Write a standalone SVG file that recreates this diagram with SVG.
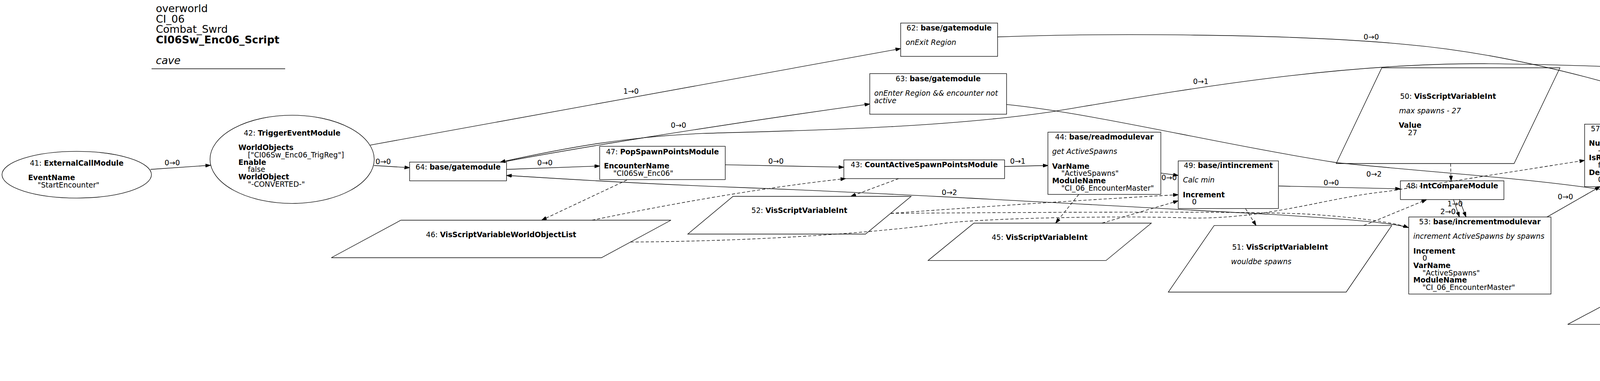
<svg xmlns="http://www.w3.org/2000/svg" width="5451" height="975" viewBox="0 0 5451 975">
<defs>
<style>
text{font-family:"DejaVu Sans","Liberation Sans",sans-serif;font-size:18.67px;fill:#000}
.tt{font-size:26.67px}
.m{text-anchor:middle}
.b{font-weight:bold}
.i{font-style:italic}
.s{fill:none;stroke:#000;stroke-width:1.33}
.e{fill:none;stroke:#000;stroke-width:1.33;marker-end:url(#a)}
.d{fill:none;stroke:#000;stroke-width:1.33;stroke-dasharray:8,5;marker-end:url(#a)}
</style>
<marker id="a" viewBox="0 0 13 9" refX="13" refY="4.5" markerWidth="13" markerHeight="9" markerUnits="userSpaceOnUse" orient="auto">
<path d="M0,0L13,4.5L0,9z" fill="#000" stroke="#000" stroke-width="1"/>
</marker>
</defs>
<rect width="5451" height="975" fill="#fff"/>
<g id="title">
<text class="tt" x="399" y="31">overworld</text>
<text class="tt" x="399" y="57.7">CI_06</text>
<text class="tt" x="399" y="84.3">Combat_Swrd</text>
<text class="tt b" x="399" y="111">CI06Sw_Enc06_Script</text>
<text class="tt i" x="399" y="164.3">cave</text>
<line class="s" x1="388" y1="176" x2="730" y2="176"/>
</g>
<g id="edges">
<path class="e" d="M385.2,433.5 L538.9,422.9"/>
<text class="m" x="441" y="423">0→0</text>
<path class="e" d="M957.4,423.5 L1048.6,429.1"/>
<text class="m" x="981" y="420.4">0→0</text>
<path class="e" d="M947.8,371.3 L2305.7,124.4"/>
<text class="m" x="1615.5" y="240">1→0</text>
<path class="e" d="M1296.7,433.5 L1535.2,424.8"/>
<text class="m" x="1395" y="423">0→0</text>
<path class="e" d="M1295.6,413 C1450,384 1800,325 2226.6,266.2"/>
<text class="m" x="1737" y="327">0→0</text>
<path class="e" d="M4940.8,210.2 C4600,190 4100,165 3800,163 C3400,162 3000,235 2700,284.8 C2400,330 2000,335 1800,341.4 C1600,350 1450,378 1280.7,414.8"/>
<text class="m" x="3074" y="214.6">0→1</text>
<path class="e" d="M2576.8,267.4 C2800,290 3100,365 3420,416 C3650,440 3900,455 4100,485 C4250,505 4380,490 4491.4,463.3"/>
<text class="m" x="3517.5" y="451.5">0→2</text>
<path class="e" d="M2553.8,94.5 C2800,85 3300,85 3600,113.8 C3900,140 4250,240 4491.6,339"/>
<text class="m" x="3510.5" y="101">0→0</text>
<path class="e" d="M1856.1,421.6 L2160.3,427.9"/>
<text class="m" x="1986.5" y="418.5">0→0</text>
<path class="e" d="M2571.7,426 L2682.7,423.5"/>
<text class="m" x="2605.5" y="418.5">0→1</text>
<path class="e" d="M2971.7,442.8 L3016.3,449"/>
<text class="m" x="2993" y="461">0→0</text>
<path class="e" d="M3273.6,476 L3585,483.3"/>
<text class="m" x="3408" y="474">0→0</text>
<path class="e" d="M3721,510.7 L3736,555.3"/>
<text class="m" x="3707" y="548.3">2→0</text>
<path class="e" d="M3736,510.7 L3753,555.3"/>
<text class="m" x="3725" y="527.7">1→0</text>
<path class="e" d="M3960.3,555.3 L4096.2,477.6"/>
<text class="m" x="4007.5" y="510">0→0</text>
<path class="e" d="M3605.6,582.5 C3560,568 3400,558 3250,548.3 C2900,530 2300,495 1900,480 C1600,469 1400,455 1296.7,449"/>
<text class="m" x="2430.5" y="498.8">0→2</text>
<path class="e" d="M4417.6,402.4 L4491.6,404.2"/>
<text class="m" x="4463.5" y="416.7">0→1</text>
<path class="e" d="M4417.6,466.4 C4500,490 4700,555 4803.7,590.8"/>
<text class="m" x="4587.4" y="526.1">1→0</text>
<path class="e" d="M4759.7,417.3 L4802.4,420.4"/>
<text class="m" x="4780.5" y="433.5">0→2</text>
<path class="e" d="M4980.3,386.8 L5021.8,339"/>
<text class="m" x="4979.7" y="358.2">0→0</text>
<path class="e" d="M5059.4,626.9 L5101.5,625"/>
<text class="m" x="5079.3" y="640.5">0→0</text>
<path class="d" d="M1604.7,460.8 L1386.5,563.5"/>
<path class="d" d="M1516,563.5 C1700,525 1950,480 2164.8,457.1"/>
<path class="d" d="M2300.6,457.1 L2178.2,502.5"/>
<path class="d" d="M2761.7,497.5 L2702.4,571"/>
<path class="d" d="M2280.5,546 C2500,530 2800,510 3016.3,498.3"/>
<path class="d" d="M2280.5,546 C2700,543 3200,540 3350,548 C3450,555 3560,566 3605.6,582.5"/>
<path class="d" d="M2821.2,571 L3016.3,514"/>
<path class="d" d="M1614,619.4 C1950,617 2250,595 2420,571 C2560,556 2900,552 3050,558 C3250,560 3400,505 3550,490 L4056.6,410.4"/>
<path class="d" d="M3188.6,534 L3215.6,577.1"/>
<path class="d" d="M3491.3,577.1 L3652,511"/>
<path class="d" d="M3713.5,418.5 L3714.8,462.7"/>
<path class="d" d="M4281,477.6 L4420.8,735"/>
<path class="d" d="M4470.5,735 L4587.2,487.6"/>
<path class="d" d="M4515.2,735 L4881.5,472.6"/>
<path class="d" d="M4376.8,477.6 L4716.7,660 C4760,684 4780,700 4810,702 C4860,704 4885,708 4885,735 C4885,790 4850,835 4780,873.1"/>
<path class="d" d="M4685,873.1 C4800,790 4880,740 4905,691.7"/>
<path class="d" d="M4918.3,691.7 C4910,760 4850,820 4706.7,873.1"/>
<path class="d" d="M4796.7,873.1 C4950,820 5056,743 5063,693 L5114.3,339"/>
</g>
<g id="node41">
<ellipse class="s" cx="196.4" cy="447.1" rx="191.3" ry="59.7"/>
<text class="m" x="196.4" y="424">41: <tspan class="b">ExternalCallModule</tspan></text>
<text class="b" x="72" y="461.3">EventName</text>
<text x="96.3" y="480">"StartEncounter"</text>
</g>
<g id="node42">
<ellipse class="s" cx="747.8" cy="407.7" rx="210.2" ry="112.9"/>
<text class="m" x="747.8" y="347">42: <tspan class="b">TriggerEventModule</tspan></text>
<text class="b" x="610.3" y="384.3">WorldObjects</text>
<text x="634.6" y="403">["CI06Sw_Enc06_TrigReg"]</text>
<text class="b" x="610.3" y="421.7">Enable</text>
<text x="634.6" y="440.3">false</text>
<text class="b" x="610.3" y="459">WorldObject</text>
<text x="634.6" y="477.7">"-CONVERTED-"</text>
</g>
<g id="node64">
<rect class="s" x="1048.6" y="414.8" width="248.1" height="47.9"/>
<text class="m" x="1172.7" y="433.5">64: <tspan class="b">base/gatemodule</tspan></text>
</g>
<g id="node47">
<rect class="s" x="1535.2" y="374.4" width="321.4" height="85.2"/>
<text class="m" x="1695.9" y="394.5">47: <tspan class="b">PopSpawnPointsModule</tspan></text>
<text class="b" x="1546" y="431">EncounterName</text>
<text x="1570" y="449.6">"CI06Sw_Enc06"</text>
</g>
<g id="node62">
<rect class="s" x="2305.7" y="59" width="248.1" height="85.3"/>
<text class="m" x="2429.75" y="77.7">62: <tspan class="b">base/gatemodule</tspan></text>
<text class="i" x="2318.5" y="115">onExit Region</text>
</g>
<g id="node63">
<rect class="s" x="2226.6" y="188.4" width="350.2" height="103.9"/>
<text class="m" x="2401.7" y="208.3">63: <tspan class="b">base/gatemodule</tspan></text>
<text class="i" x="2238.1" y="244.9">onEnter Region &amp;&amp; encounter not</text>
<text class="i" x="2238.1" y="263.6">active</text>
</g>
<g id="node43">
<rect class="s" x="2160.3" y="409.2" width="411.4" height="47.9"/>
<text class="m" x="2366" y="427.9">43: <tspan class="b">CountActiveSpawnPointsModule</tspan></text>
</g>
<g id="node44">
<rect class="s" x="2682.6" y="338.3" width="289.1" height="159.2"/>
<text class="m" x="2827.2" y="357">44: <tspan class="b">base/readmodulevar</tspan></text>
<text class="i" x="2693.5" y="394.3">get ActiveSpawns</text>
<text class="b" x="2693.5" y="431.7">VarName</text>
<text x="2717" y="450.3">"ActiveSpawns"</text>
<text class="b" x="2693.5" y="469">ModuleName</text>
<text x="2717" y="487.7">"CI_06_EncounterMaster"</text>
</g>
<g id="node49">
<rect class="s" x="3016.3" y="411.7" width="256.4" height="121.9"/>
<text class="m" x="3144.5" y="430.3">49: <tspan class="b">base/intincrement</tspan></text>
<text class="i" x="3028.4" y="467.3">Calc min</text>
<text class="b" x="3028" y="504.7">Increment</text>
<text x="3051.4" y="523.2">0</text>
</g>
<g id="node48">
<rect class="s" x="3585" y="462.7" width="265" height="48"/>
<text class="m" x="3717.5" y="482">48: <tspan class="b">IntCompareModule</tspan></text>
</g>
<g id="node53">
<rect class="s" x="3606.4" y="555.3" width="364.1" height="197.2"/>
<text class="m" x="3788.5" y="574">53: <tspan class="b">base/incrementmodulevar</tspan></text>
<text class="i" x="3618" y="611.3">increment ActiveSpawns by spawns</text>
<text class="b" x="3618" y="648.6">Increment</text>
<text x="3641.5" y="667.3">0</text>
<text class="b" x="3618" y="686">VarName</text>
<text x="3641.5" y="704.6">"ActiveSpawns"</text>
<text class="b" x="3618" y="723.3">ModuleName</text>
<text x="3641.5" y="742">"CI_06_EncounterMaster"</text>
</g>
<g id="node57">
<rect class="s" x="4056.6" y="317.8" width="361" height="159.8"/>
<text class="m" x="4237.1" y="335.8">57: <tspan class="b">SpawnMonsterEventModule</tspan></text>
<text class="b" x="4067.5" y="373.1">NumberToSpawn</text>
<text x="4091" y="391.8">-1</text>
<text class="b" x="4067.5" y="410.4">IsRandom</text>
<text x="4091" y="429.1">false</text>
<text class="b" x="4067.5" y="447.8">DelayTime</text>
<text x="4091" y="466.4">0.1</text>
</g>
<g id="node54">
<rect class="s" x="4491.4" y="327.7" width="268.3" height="159.9"/>
<text class="m" x="4625.5" y="347">54: <tspan class="b">base/distancedelay</tspan></text>
<text class="i" x="4502.5" y="384.3">if far from all creatures</text>
<text class="b" x="4502.5" y="421.7">Enabled</text>
<text x="4526" y="440.3">false</text>
<text class="b" x="4502.5" y="459">Distance</text>
<text x="4526" y="477.7">2400</text>
</g>
<g id="node55">
<rect class="s" x="4802.4" y="386.8" width="280.6" height="85.8"/>
<text class="m" x="4942.7" y="405.5">55: <tspan class="b">ObjectToggleModule</tspan></text>
<text class="i" x="4814.5" y="442.8">delete creatures</text>
</g>
<g id="node58">
<rect class="s" x="4940.8" y="104.5" width="371.8" height="234.5"/>
<text class="m" x="5126.7" y="123.1">58: <tspan class="b">base/incrementmodulevar</tspan></text>
<text class="i" x="4953.5" y="160.4">decrement ActiveSpawns by spawns</text>
<text class="b" x="4952.3" y="197.8">Increment</text>
<text x="4975.9" y="216.4">0</text>
<text class="b" x="4952.3" y="235.1">Operator</text>
<text x="4975.9" y="253.8">1</text>
<text class="b" x="4952.3" y="272.4">VarName</text>
<text x="4975.9" y="291.1">"ActiveSpawns"</text>
<text class="b" x="4952.3" y="309.8">ModuleName</text>
<text x="4975.9" y="328.4">"CI_06_EncounterMaster"</text>
</g>
<g id="node60">
<rect class="s" x="4802.4" y="569" width="257" height="122"/>
<text class="m" x="4930.9" y="587.7">60: <tspan class="b">base/intincrement</tspan></text>
<text class="i" x="4813.2" y="625">decrement local count</text>
<text class="b" x="4813.2" y="662.3">Operator</text>
<text x="4836.8" y="681">1</text>
</g>
<g id="node59">
<rect class="s" x="5101.5" y="522.4" width="343.1" height="197.1"/>
<text class="m" x="5273" y="541">59: <tspan class="b">base/incrementmodulevar</tspan></text>
<text class="i" x="5113.8" y="578.3">decrement ActiveSpawns by 1</text>
<text class="b" x="5113.8" y="615.7">Operator</text>
<text x="5137.8" y="634.3">1</text>
<text class="b" x="5113.8" y="653">VarName</text>
<text x="5137.8" y="671.7">"ActiveSpawns"</text>
<text class="b" x="5113.8" y="690.3">ModuleName</text>
<text x="5137.8" y="709">"CI_06_EncounterMaster"</text>
</g>
<g id="node46">
<polygon class="s" points="1026.3,563.5 1717.6,563.5 1539.7,659.5 848.2,659.5"/>
<text class="m" x="1282.9" y="606.5">46: <tspan class="b">VisScriptVariableWorldObjectList</tspan></text>
</g>
<g id="node52">
<polygon class="s" points="1876.5,502.5 2332.5,502.5 2215.8,599 1760.8,599"/>
<text class="m" x="2046.4" y="545.4">52: <tspan class="b">VisScriptVariableInt</tspan></text>
</g>
<g id="node45">
<polygon class="s" points="2493.2,571 2947.4,571 2831.4,666.7 2375.9,666.7"/>
<text class="m" x="2661.5" y="613.8">45: <tspan class="b">VisScriptVariableInt</tspan></text>
</g>
<g id="node50">
<polygon class="s" points="3537.4,173.5 3993.5,173.5 3876.1,418.5 3420.7,418.5"/>
<text class="m" x="3707" y="252.5">50: <tspan class="b">VisScriptVariableInt</tspan></text>
<text class="i" x="3581.4" y="289.8">max spawns - 27</text>
<text class="b" x="3580.7" y="327.2">Value</text>
<text x="3604.3" y="345.8">27</text>
</g>
<g id="node51">
<polygon class="s" points="3108.2,577.1 3562.9,577.1 3446.2,747.5 2990.8,747.5"/>
<text class="m" x="3277" y="638.7">51: <tspan class="b">VisScriptVariableInt</tspan></text>
<text class="i" x="3151.5" y="676">wouldbe spawns</text>
</g>
<g id="node56">
<polygon class="s" points="4191.8,735 4884.7,735 4704.2,830.2 4013.3,830.2"/>
<text class="m" x="4448.5" y="777.4">56: <tspan class="b">VisScriptVariableWorldObjectList</tspan></text>
</g>
<g id="node61">
<polygon class="s" points="4441.8,873.1 4897.6,873.1 4780.9,968.6 4325.1,968.6"/>
<text class="m" x="4611.4" y="915.5">61: <tspan class="b">VisScriptVariableInt</tspan></text>
</g>
</svg>
